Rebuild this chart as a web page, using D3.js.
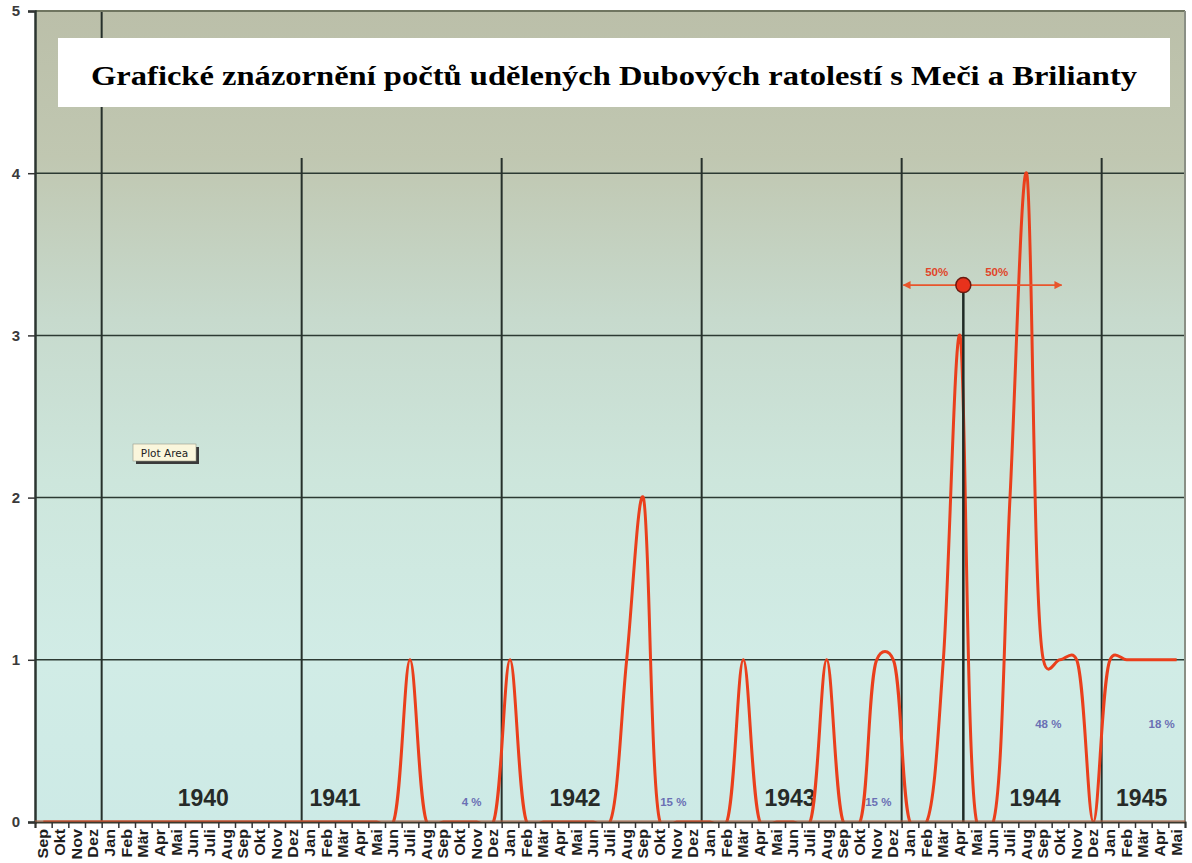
<!DOCTYPE html>
<html><head><meta charset="utf-8">
<script src="https://cdn.jsdelivr.net/npm/d3@7"></script>
<style>
html,body{margin:0;padding:0;background:#fff;}
svg{display:block;}
</style></head>
<body>
<svg id="chart" width="1192" height="863"></svg>
<script>
// ---------------- DATA ----------------
const monthLabels = [
  "Sep","Okt","Nov","Dez",
  "Jan","Feb","Mär","Apr","Mai","Jun","Juli","Aug","Sep","Okt","Nov","Dez",
  "Jan","Feb","Mär","Apr","Mai","Jun","Juli","Aug","Sep","Okt","Nov","Dez",
  "Jan","Feb","Mär","Apr","Mai","Jun","Juli","Aug","Sep","Okt","Nov","Dez",
  "Jan","Feb","Mär","Apr","Mai","Jun","Juli","Aug","Sep","Okt","Nov","Dez",
  "Jan","Feb","Mär","Apr","Mai","Jun","Juli","Aug","Sep","Okt","Nov","Dez",
  "Jan","Feb","Mär","Apr","Mai"
];
const awards = [
  0,0,0,0,
  0,0,0,0,0,0,0,0,0,0,0,0,
  0,0,0,0,0,0,1,0,0,0,0,0,
  1,0,0,0,0,0,0,1,2,0,0,0,
  0,0,1,0,0,0,0,1,0,0,1,1,
  0,0,1,3,0,0,2,4,1,1,1,0,
  1,1,1,1,1
];
const yTicks = [0,1,2,3,4,5];
// year boundaries (month index where a new year starts)
const yearStarts = [4,16,28,40,52,64];
const yearLabels = ["1940","1941","1942","1943","1944","1945"];
const yearLabelAt = [10.1,18.0,32.4,45.3,60.0,66.4];
const pctLabels = ["4 %","15 %","15 %","48 %","18 %"];
const pctAt = [26.2,38.3,50.6,60.8,67.6];
const pctValue = [0.1,0.1,0.1,0.58,0.58];
const medianMonth = 55.7;   // 50% mark
const medianValue = 3.31;
const title = "Grafické znázornění počtů udělených Dubových ratolestí s Meči a Brilianty";

// ---------------- LAYOUT ----------------
const svg = d3.select("#chart");
const L = 35, R = 1185, T = 11, B = 822;
const n = monthLabels.length;
const xl = d3.scaleLinear().domain([0, n]).range([L, R]);
const xb = d3.scaleBand().domain(d3.range(n)).range([L, R]).padding(0);
const y = d3.scaleLinear().domain([0, 5]).range([B, T]);

const defs = svg.append("defs");
const grad = defs.append("linearGradient").attr("id","bg").attr("x1",0).attr("y1",0).attr("x2",0).attr("y2",1);
[["0%","#bbbfa9"],["18%","#c0c7b1"],["38%","#c7dacd"],["58%","#cde6dc"],["80%","#d1ece6"],["100%","#cdeae6"]]
  .forEach(([o,c]) => grad.append("stop").attr("offset",o).attr("stop-color",c));
defs.append("clipPath").attr("id","clip").append("rect")
  .attr("x", L).attr("y", T).attr("width", R - L).attr("height", B - T);
const mk = defs.append("marker").attr("id","arr").attr("viewBox","0 0 10 10")
  .attr("refX",9).attr("refY",5).attr("markerWidth",8).attr("markerHeight",8)
  .attr("orient","auto-start-reverse").attr("markerUnits","userSpaceOnUse");
mk.append("path").attr("d","M0,0 L10,5 L0,10 Z").attr("fill","#e8552c");

// plot background
svg.append("rect").attr("x",L).attr("y",T).attr("width",R-L).attr("height",B-T).attr("fill","url(#bg)");

// horizontal gridlines
svg.append("g").selectAll("line").data(yTicks.filter(d => d > 0 && d < 5)).join("line")
  .attr("x1",L).attr("x2",R).attr("y1",d=>y(d)).attr("y2",d=>y(d))
  .attr("stroke","#2c3a33").attr("stroke-width",1.5);

// vertical year lines
svg.append("g").selectAll("line").data(yearStarts).join("line")
  .attr("x1",d=>xl(d)).attr("x2",d=>xl(d))
  .attr("y1",(d,i)=> i===0 ? T : 158).attr("y2",B)
  .attr("stroke","#26302b").attr("stroke-width",2);

// borders
svg.append("line").attr("x1",L).attr("x2",R).attr("y1",T).attr("y2",T).attr("stroke","#6f7560").attr("stroke-width",2);
svg.append("line").attr("x1",R).attr("x2",R).attr("y1",T).attr("y2",B).attr("stroke","#8a8f85").attr("stroke-width",2);

// title box
svg.append("rect").attr("x",58).attr("y",38).attr("width",1112).attr("height",69).attr("fill","#ffffff");
svg.append("text").attr("x",614).attr("y",85).attr("text-anchor","middle")
  .attr("font-family","'Liberation Serif','Times New Roman',serif").attr("font-weight","bold")
  .attr("font-size",27).attr("fill","#000")
  .attr("textLength",1046).attr("lengthAdjust","spacingAndGlyphs")
  .text(title);

// plot area tooltip
const pa = svg.append("g");
pa.append("rect").attr("x",136).attr("y",447).attr("width",63).attr("height",17).attr("fill","#3a3a3a");
pa.append("rect").attr("x",133).attr("y",444).attr("width",63).attr("height",17).attr("fill","#faf6dc").attr("stroke","#9a9a88").attr("stroke-width",0.6);
pa.append("text").attr("x",164.5).attr("y",457).attr("text-anchor","middle")
  .attr("font-family","'DejaVu Sans',Arial,sans-serif").attr("font-size",10.5).attr("fill","#222").text("Plot Area");

// year labels
svg.append("g").selectAll("text").data(yearLabels).join("text")
  .attr("x",(d,i)=>xl(yearLabelAt[i])).attr("y",806).attr("text-anchor","middle")
  .attr("font-family","'Liberation Sans',Arial,sans-serif").attr("font-weight","bold")
  .attr("font-size",23).attr("fill","#262a28").text(d=>d);

// percent labels
svg.append("g").selectAll("text").data(pctLabels).join("text")
  .attr("x",(d,i)=>xl(pctAt[i])).attr("y",(d,i)=>y(pctValue[i])).attr("text-anchor","middle")
  .attr("font-family","'Liberation Sans',Arial,sans-serif").attr("font-weight","bold")
  .attr("font-size",11.5).attr("fill","#6a70b4").text(d=>d);

// data line (smoothed)
const line = d3.line()
  .x((d,i)=>xb(i)+xb.bandwidth()/2)
  .y(d=>y(d))
  .curve(d3.curveCatmullRom.alpha(0.25));
svg.append("path").datum(awards).attr("d",line).attr("clip-path","url(#clip)")
  .attr("fill","none").attr("stroke","#ea3f1c").attr("stroke-width",3).attr("stroke-linejoin","round");

// 50% marker
const mx = xl(medianMonth), my = y(medianValue);
svg.append("line").attr("x1",mx).attr("x2",mx).attr("y1",my).attr("y2",B)
  .attr("stroke","#1f2a25").attr("stroke-width",2.5);
svg.append("line").attr("x1",mx).attr("x2",xl(52.1)).attr("y1",my).attr("y2",my)
  .attr("stroke","#e8552c").attr("stroke-width",1.6).attr("marker-end","url(#arr)");
svg.append("line").attr("x1",mx).attr("x2",xl(61.6)).attr("y1",my).attr("y2",my)
  .attr("stroke","#e8552c").attr("stroke-width",1.6).attr("marker-end","url(#arr)");
svg.append("circle").attr("cx",mx).attr("cy",my).attr("r",7.5)
  .attr("fill","#e8321c").attr("stroke","#6a1a10").attr("stroke-width",1.5);
svg.append("text").attr("x",xl(54.1)).attr("y",my-9).attr("text-anchor","middle")
  .attr("font-family","'Liberation Sans',Arial,sans-serif").attr("font-weight","bold")
  .attr("font-size",11.5).attr("fill","#e0462a").text("50%");
svg.append("text").attr("x",xl(57.7)).attr("y",my-9).attr("text-anchor","middle")
  .attr("font-family","'Liberation Sans',Arial,sans-serif").attr("font-weight","bold")
  .attr("font-size",11.5).attr("fill","#e0462a").text("50%");

// y axis
const yAxis = svg.append("g").attr("transform",`translate(${L},0)`)
  .call(d3.axisLeft(y).tickValues(yTicks).tickFormat(d3.format("d")).tickSize(7).tickPadding(8));
yAxis.select(".domain").attr("stroke","#2b3530").attr("stroke-width",2.5);
yAxis.selectAll(".tick line").attr("stroke","#333").attr("stroke-width",1.5);
yAxis.selectAll(".tick text").attr("font-family","'Liberation Sans',Arial,sans-serif")
  .attr("font-weight","bold").attr("font-size",15).attr("fill","#3a3a3a");

// x axis tick marks at month boundaries
const xTicks = svg.append("g").attr("transform",`translate(0,${B})`)
  .call(d3.axisBottom(xl).tickValues(d3.range(n+1)).tickFormat("").tickSize(6));
xTicks.select(".domain").attr("stroke","#3b3a2e").attr("stroke-width",2);
xTicks.selectAll(".tick line").attr("stroke","#333").attr("stroke-width",1.5);
svg.append("line").attr("x1",L).attr("x2",R).attr("y1",B-1).attr("y2",B-1).attr("stroke","#b55a3a").attr("stroke-width",1);

// x axis month labels (rotated)
const xLab = svg.append("g").attr("transform",`translate(0,${B})`)
  .call(d3.axisBottom(xb).tickFormat(i=>monthLabels[i]).tickSize(0));
xLab.select(".domain").remove();
xLab.selectAll(".tick text")
  .attr("font-family","'Liberation Sans',Arial,sans-serif").attr("font-weight","bold")
  .attr("font-size",14).attr("fill","#1e1e1e")
  .attr("text-anchor","end").attr("dy",null).attr("y",null)
  .attr("transform","translate(5,7) rotate(-90) scale(1.15,1)");
</script>
</body></html>
